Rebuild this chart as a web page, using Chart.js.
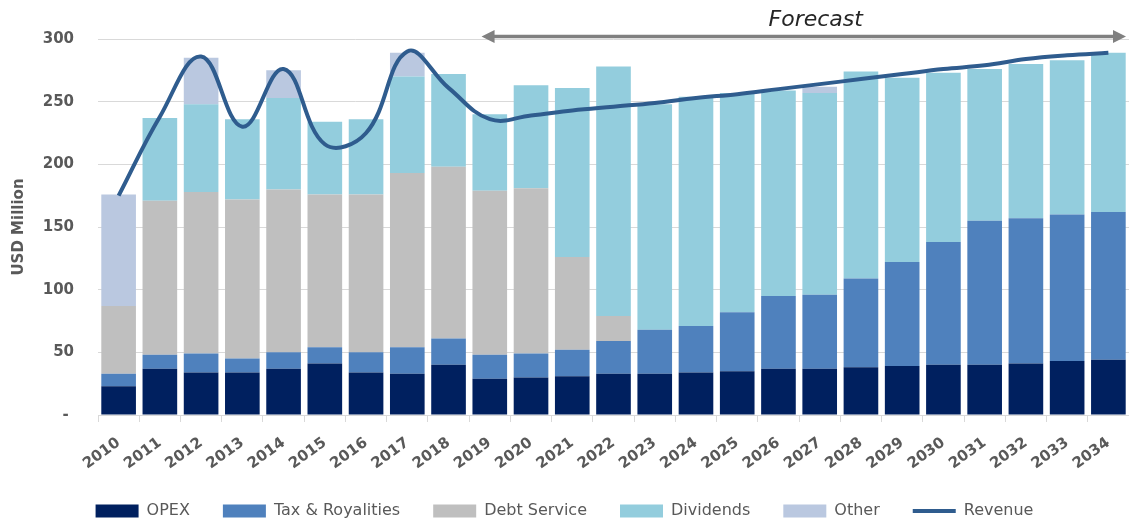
<!DOCTYPE html>
<html>
<head>
<meta charset="utf-8">
<script src="https://cdn.jsdelivr.net/npm/chart.js@4.4.1/dist/chart.umd.min.js"></script>
<style>
  html, body { margin: 0; padding: 0; background: #ffffff; }
  #wrap { width: 1129px; height: 521px; }
</style>
</head>
<body>
<div id="wrap"><canvas id="c" width="1129" height="521"></canvas></div>
<script>
// Years on the category axis
const years = ['2010','2011','2012','2013','2014','2015','2016','2017','2018','2019','2020','2021',
  '2022','2023','2024','2025','2026','2027','2028','2029','2030','2031','2032','2033','2034'];

// Uses of funds, USD million (stacked bars)
const opex      = [23, 37, 34, 34, 37, 41, 34, 33, 40, 29, 30, 31, 33, 33, 34, 35, 37, 37, 38, 39, 40, 40, 41, 43, 44];
const taxRoyal  = [10, 11, 15, 11, 13, 13, 16, 21, 21, 19, 19, 21, 26, 35, 37, 47, 58, 59, 71, 83, 98, 115, 116, 117, 118];
const debtSvc   = [54, 123, 129, 127, 130, 122, 126, 139, 137, 131, 132, 74, 20, 0, 0, 0, 0, 0, 0, 0, 0, 0, 0, 0, 0];
const dividends = [0, 66, 70, 64, 73, 58, 60, 77, 74, 61, 82, 135, 199, 180, 183, 175, 164, 161, 165, 147, 135, 121, 123, 123, 127];
const other     = [89, 0, 37, 0, 22, 0, 0, 19, 0, 0, 0, 0, 0, 0, 0, 0, 0, 5, 0, 0, 0, 0, 0, 0, 0];

// Total revenue, USD million (line)
const revenue   = [175, 238, 286, 230, 276, 216, 225, 290, 261, 236, 239, 243, 246, 249, 253, 256, 260, 264, 268, 272, 276, 279, 284, 287, 289];

// Y axis tick values
const yTicks = [0, 50, 100, 150, 200, 250, 300];

// First forecast year
const forecastStart = '2019';

const FONT = 'DejaVu Sans';
const TXT = '#595959';

// Arrow + "Forecast" caption above the plot
const forecastBanner = {
  id: 'forecastBanner',
  afterDraw(chart) {
    const { ctx, chartArea } = chart;
    const x = chart.scales.x;
    const cat = x.getPixelForValue(1) - x.getPixelForValue(0);
    const x0 = x.getPixelForValue(years.indexOf(forecastStart)) - 0.2 * cat;
    const x1 = chartArea.right - 3;
    const y = chartArea.top - 2.5;
    const headL = 13, headH = 6.5;
    ctx.save();
    ctx.strokeStyle = '#808080';
    ctx.fillStyle = '#808080';
    ctx.lineWidth = 3.5;
    ctx.beginPath();
    ctx.moveTo(x0 + headL - 1, y);
    ctx.lineTo(x1 - headL + 1, y);
    ctx.stroke();
    ctx.beginPath();
    ctx.moveTo(x0, y);
    ctx.lineTo(x0 + headL, y - headH);
    ctx.lineTo(x0 + headL, y + headH);
    ctx.closePath();
    ctx.fill();
    ctx.beginPath();
    ctx.moveTo(x1, y);
    ctx.lineTo(x1 - headL, y - headH);
    ctx.lineTo(x1 - headL, y + headH);
    ctx.closePath();
    ctx.fill();
    ctx.fillStyle = '#262626';
    ctx.font = 'italic 22px "' + FONT + '"';
    ctx.textAlign = 'center';
    ctx.textBaseline = 'middle';
    ctx.fillText('Forecast', x.getPixelForValue(17) - 4, 20);
    ctx.restore();
  }
};

const barBase = { type: 'bar', borderWidth: 0, pointStyle: 'rect', stack: 'uses', order: 1 };

new Chart(document.getElementById('c'), {
  data: {
    labels: years,
    datasets: [
      Object.assign({}, barBase, { label: 'OPEX', data: opex, backgroundColor: '#00205F' }),
      Object.assign({}, barBase, { label: 'Tax & Royalities', data: taxRoyal, backgroundColor: '#4F81BD' }),
      Object.assign({}, barBase, { label: 'Debt Service', data: debtSvc, backgroundColor: '#BFBFBF' }),
      Object.assign({}, barBase, { label: 'Dividends', data: dividends, backgroundColor: '#93CDDD' }),
      Object.assign({}, barBase, { label: 'Other', data: other, backgroundColor: '#BAC8E0' }),
      {
        type: 'line', label: 'Revenue', data: revenue, stack: 'revenue', order: 0,
        borderColor: '#2F5C8E', backgroundColor: '#2F5C8E', borderWidth: 4,
        pointRadius: 0, pointHoverRadius: 0, pointStyle: 'line', tension: 0.4, fill: false
      }
    ]
  },
  options: {
    responsive: false,
    animation: false,
    devicePixelRatio: 1,
    datasets: { bar: { categoryPercentage: 1, barPercentage: 0.84 } },
    layout: { padding: { top: 39, right: 0, left: 0, bottom: -8 } },
    plugins: {
      tooltip: { enabled: false },
      legend: {
        position: 'bottom',
        labels: {
          usePointStyle: true,
          pointStyleWidth: 43,
          boxHeight: 13,
          padding: 33,
          color: TXT,
          font: { family: FONT, size: 16 },
          sort: (a, b) => a.datasetIndex - b.datasetIndex
        }
      }
    },
    scales: {
      x: {
        stacked: true,
        offset: true,
        grid: { display: true, drawOnChartArea: false, drawTicks: true, tickLength: 7, color: '#D9D9D9', offset: true },
        border: { display: true, color: '#D9D9D9', width: 1 },
        ticks: {
          autoSkip: false, minRotation: 36, maxRotation: 36, padding: 12,
          color: TXT, font: { family: FONT, size: 15, weight: 'bold' }
        },
        afterFit: (s) => { s.height = 55; s.paddingRight = 0; }
      },
      y: {
        stacked: true,
        min: 0, max: 300,
        afterBuildTicks: (s) => { s.ticks = yTicks.map(v => ({ value: v })); },
        grid: { color: '#D9D9D9', drawTicks: false },
        border: { display: false },
        ticks: {
          padding: 24, color: TXT, font: { family: FONT, size: 15, weight: 'bold' },
          callback: (v) => (v === 0 ? '- ' : String(v))
        },
        title: {
          display: true, text: 'USD Million', color: TXT,
          font: { family: FONT, size: 15, weight: 'bold' },
          padding: { top: 10, bottom: 0 }
        },
        afterFit: (s) => { s.width = 98; }
      }
    }
  },
  plugins: [forecastBanner]
});
</script>
</body>
</html>
